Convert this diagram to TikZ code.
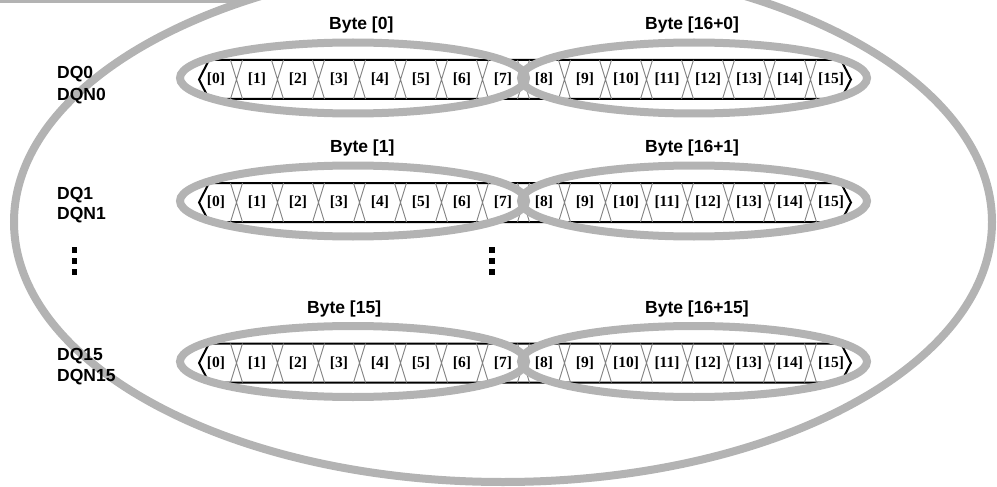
\documentclass[tikz,border=0pt]{standalone}
\usepackage{fontspec}
\setmainfont{Liberation Sans}
\newfontfamily\tnr{Liberation Serif}
\definecolor{ringgray}{RGB}{179,179,179}
\definecolor{xgray}{RGB}{128,128,128}
\newcommand{\busrow}[9]{%
  \pgfmathsetmacro{\yt}{#1-19.5}%
  \pgfmathsetmacro{\yb}{#1+19.5}%
  \draw[busline] (199,#1) -- (209,\yt) -- (841,\yt) -- (851,#1) -- (841,\yb) -- (209,\yb) -- cycle;
  \foreach \k in {0,...,14}{%
    \pgfmathsetmacro{\xc}{236.5+41*\k}%
    \draw[xline] (\xc-6,\yt) -- (\xc+6,\yb) (\xc-6,\yb) -- (\xc+6,\yt);
  }%
  \draw[ring] (353,#1-1.5) ellipse [x radius=173, y radius=35.5];
  \draw[ring] (694,#1-1.5) ellipse [x radius=173, y radius=35.5];
  \foreach \i in {0,...,15}{%
    \pgfmathsetmacro{\xl}{216+41*\i}%
    \node[bitlbl] (bit#9-\i) at (\xl,#1) {[\i]};
  }%
  \node[bytelbl] (byteL#9) at (#3,#1-50) {#2};
  \node[bytelbl] (byteR#9) at (645,#1-50) {#4};
  \node[siglbl] (dq#9) at (57,#7) {#5};
  \node[siglbl] (dqn#9) at (57,#8) {#6};
}
\begin{document}
\begin{tikzpicture}[x=1pt,y=-1pt,
  ring/.style={draw=ringgray,line width=8pt},
  busline/.style={draw=black,line width=2pt,line join=miter},
  xline/.style={draw=xgray,line width=0.9pt},
  bitlbl/.style={font=\tnr\bfseries\fontsize{15.5}{16}\selectfont,inner sep=0pt},
  bytelbl/.style={font=\bfseries\fontsize{17.5}{18}\selectfont,inner sep=0pt,anchor=base west},
  siglbl/.style={font=\bfseries\fontsize{17.5}{18}\selectfont,inner sep=0pt,anchor=base west},
  dotsq/.style={fill=black,minimum size=5.5pt,inner sep=0pt}
]
\useasboundingbox (0,0) rectangle (997,487);
\begin{scope}
  \clip (0,0) rectangle (997,487);
  \draw[ring] (503,222) ellipse [x radius=489, y radius=260];
  \draw[ring] (-10,-1) -- (252,-1);
\end{scope}
\busrow{79.5}{Byte [0]}{329}{Byte [16+0]}{DQ0}{DQN0}{79}{100}{a}
\busrow{202.5}{Byte [1]}{330}{Byte [16+1]}{DQ1}{DQN1}{199}{219}{b}
\busrow{363}{Byte [15]}{307}{Byte [16+15]}{DQ15}{DQN15}{360}{381}{c}
\foreach \yy [count=\n] in {250,261,272}{
  \node[dotsq] (dl\n) at (74.5,\yy) {};
  \node[dotsq] (dr\n) at (492,\yy) {};
}
\end{tikzpicture}
\end{document}
